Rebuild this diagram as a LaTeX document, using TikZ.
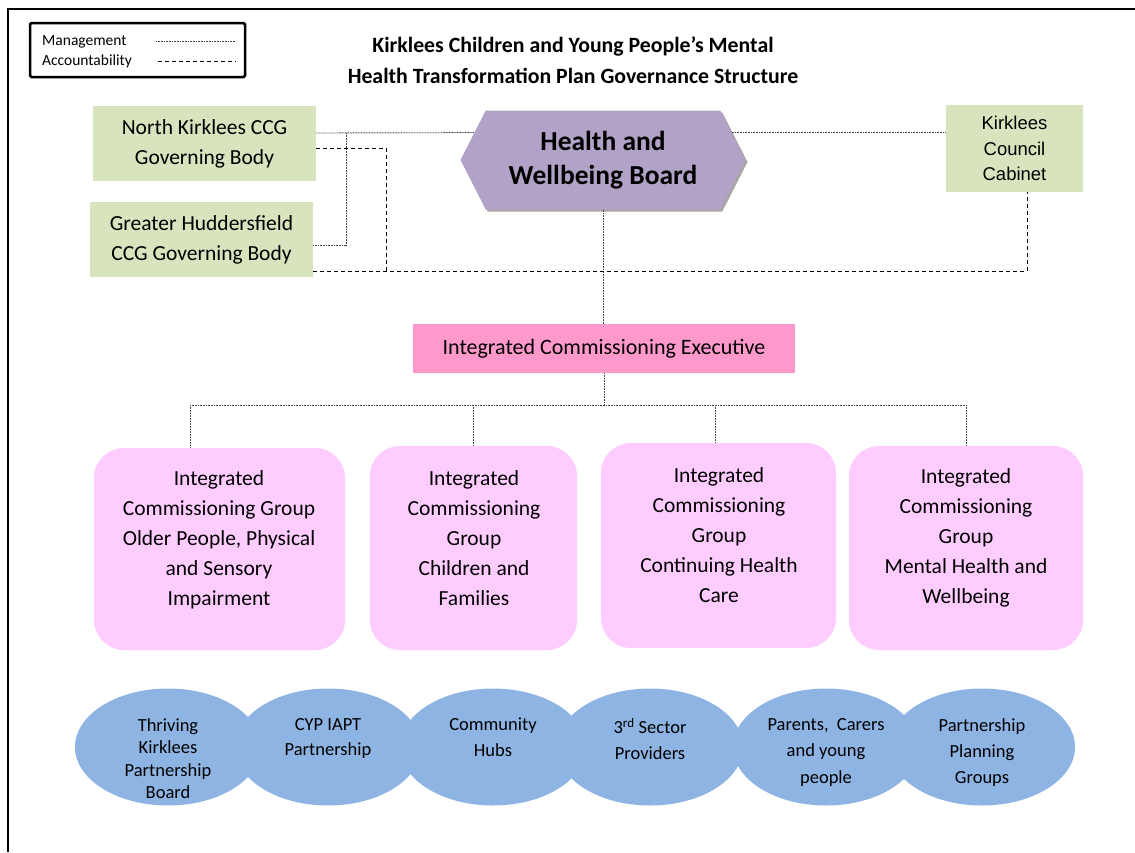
\documentclass[tikz,border=0pt]{standalone}
\usepackage{fontspec}
\setmainfont{Carlito}
\newfontfamily\arialfont{Liberation Sans}
\usetikzlibrary{shapes.symbols,shapes.geometric,shadows}

\definecolor{boardgreen}{HTML}{D7E4BD}
\definecolor{hwbpurple}{HTML}{B3A2C7}
\definecolor{icepink}{HTML}{FF99CC}
\definecolor{icgpink}{HTML}{FFCCFF}
\definecolor{partblue}{HTML}{8EB4E3}

\tikzset{
  mgmt/.style={line width=0.9pt, dash pattern=on 0.9pt off 0.7pt, black!75},
  acct/.style={line width=0.8pt, dash pattern=on 4pt off 3pt},
  ccg/.style={fill=boardgreen, align=center, inner sep=0pt, font=\fontsize{21.5}{30}\selectfont},
  icg/.style={fill=icgpink, rounded corners=30pt, inner sep=0pt},
  icgtext/.style={align=center, font=\fontsize{21.5}{30}\selectfont},
  part/.style={ellipse, fill=partblue, minimum width=186pt, minimum height=117pt, inner sep=0pt},
  parttext/.style={align=center, anchor=north, inner sep=0pt},
}

\begin{document}
\begin{tikzpicture}[x=1pt,y=-1pt]
\useasboundingbox (0,0) rectangle (1135,852);
\draw[line width=2pt] (8,852) -- (8,9) -- (1135,9);

% key
\node[draw, line width=2.5pt, rounded corners=1.5pt, minimum width=215pt, minimum height=54pt] (key) at (137.5,50) {};
\node[anchor=west, inner sep=0pt, font=\fontsize{15.5}{18}\selectfont] (keymgmt) at (42,41.5) {Management};
\node[anchor=west, inner sep=0pt, font=\fontsize{15.5}{18}\selectfont] (keyacct) at (42,61) {Accountability};
\draw[mgmt, line width=0.7pt] (156,41.5) -- (236,41.5);
\draw[acct] (158,61) -- (236,61);

\node[align=center, font=\bfseries\fontsize{21.8}{31}\selectfont] (title) at (573,60.5)
  {Kirklees Children and Young People’s Mental\\Health Transformation Plan Governance Structure};

% boards
\node[ccg, minimum width=223pt, minimum height=75pt] (nk) at (204.5,143.5) {North Kirklees CCG\\Governing Body};
\node[ccg, minimum width=223pt, minimum height=75pt] (gh) at (201.5,239.5) {Greater Huddersfield\\CCG Governing Body};
\node[ccg, font=\arialfont\fontsize{18.5}{25.5}\selectfont, minimum width=137pt, minimum height=87pt] (kcc) at (1014.5,148.5) {Kirklees\\Council\\Cabinet};

\node[signal, signal to=west and east, signal pointer angle=126, fill=hwbpurple,
  minimum width=285pt, minimum height=99pt, inner sep=0pt,
  drop shadow={shadow xshift=2pt, shadow yshift=-2pt, fill=black!35, opacity=1},
  align=center, font=\bfseries\fontsize{27.5}{34}\selectfont] (hwb) at (603,160) {Health and\\Wellbeing Board};

\node[fill=icepink, minimum width=382pt, minimum height=49pt, font=\fontsize{22}{26}\selectfont] (ice) at (604,348.5) {Integrated Commissioning Executive};

% commissioning groups
\node[icg, minimum width=251pt, minimum height=202pt] (g1) at (219.5,549) {};
\node[icg, minimum width=207pt, minimum height=204pt] (g2) at (473.5,548) {};
\node[icg, minimum width=235pt, minimum height=205pt] (g3) at (718.5,545.5) {};
\node[icg, minimum width=234pt, minimum height=204pt] (g4) at (966,548) {};
\node[icgtext] (g1txt) at (219,540) {Integrated\\Commissioning Group\\Older People, Physical\\and Sensory\\Impairment};
\node[icgtext] (g2txt) at (474,538) {Integrated\\Commissioning\\Group\\Children and\\Families};
\node[icgtext] (g3txt) at (719,535.5) {Integrated\\Commissioning\\Group\\Continuing Health\\Care};
\node[icgtext] (g4txt) at (966,537.5) {Integrated\\Commissioning\\Group\\Mental Health and\\Wellbeing};

% partners
\foreach \name/\x/\lsp/\txt in {tk/168/22.5/{Thriving\\Kirklees\\Partnership\\Board},
    cyp/328/25.5/{CYP IAPT\\Partnership}, hubs/493/26/{Community\\Hubs},
    third/650/26/{3\textsuperscript{rd} Sector\\Providers},
    carers/826/26.5/{Parents,~ Carers\\and young\\people},
    plan/982/26/{Partnership\\Planning\\Groups}}{
  \node[part] (\name) at (\x,747) {};
  \node[parttext, font=\fontsize{18.5}{\lsp}\selectfont] (\name txt) at (\x,718) {\txt};
}

% management lines
\coordinate (nkjoin) at (346,133);
\draw[mgmt] ([yshift=10.5pt]nk.east) -- (hwb.168);
\draw[mgmt] ([yshift=-5.5pt]gh.east) -| (nkjoin);
\draw[mgmt] (hwb.12) -- (kcc.west |- hwb.12);
\draw[mgmt] (hwb.south) -- (hwb.south |- ice.north);

\coordinate (d1) at (190,405);
\coordinate (d2) at (473,405);
\coordinate (d3) at (715,405);
\coordinate (d4) at (966,405);
\draw[mgmt] (ice.south) -- (ice.south |- d1);
\draw[mgmt] (d1) -- (d4);
\foreach \i in {1,...,4}
  \draw[mgmt] (d\i) -- (d\i |- g\i.north);

% accountability lines
\coordinate (nkdrop) at (386,271);
\coordinate (acctjoin) at (1027,271);
\draw[acct] ([yshift=-4.5pt]nk.east) -| (nkdrop);
\draw[acct] (gh.east |- acctjoin) -- (acctjoin) -- (acctjoin |- kcc.south);

\end{tikzpicture}
\end{document}
